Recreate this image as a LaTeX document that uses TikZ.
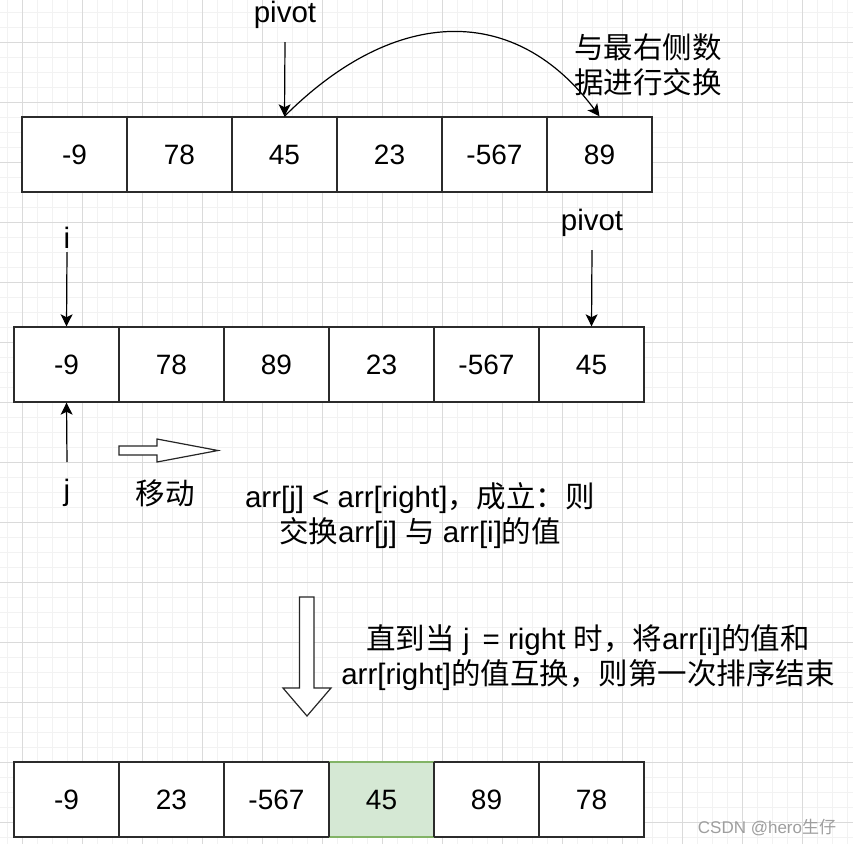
\documentclass[tikz,border=0pt]{standalone}
\usepackage{fontspec}
\setmainfont{Liberation Sans}
\newfontfamily\cjk{Noto Sans CJK SC}
\usetikzlibrary{arrows.meta}
\definecolor{minorgrid}{HTML}{F2F2F2}
\definecolor{majorgrid}{HTML}{DADADA}
\definecolor{cellborder}{HTML}{2B2B2B}
\definecolor{greenfill}{HTML}{D5E8D4}
\definecolor{greenline}{HTML}{82B366}
\tikzset{
  minorline/.style={draw=minorgrid, line width=1pt},
  majorline/.style={draw=majorgrid, line width=1pt},
  cellbox/.style={draw=cellborder, fill=white, line width=1.4pt, rectangle, minimum width=105pt, minimum height=75pt, inner sep=0pt, font=\fontsize{28}{32}\selectfont},
  greencell/.style={cellbox, fill=greenfill, draw=greenline},
  lbl/.style={inner sep=0pt, align=center, font=\fontsize{29.5}{35}\selectfont},
  pointer/.style={draw=black, line width=1.2pt, -{Stealth[length=12pt,width=12pt,inset=3pt]}},
  hollow/.style={draw=black!85, line width=1.2pt, fill=white, line join=miter},
}
\begin{document}
\begin{tikzpicture}[x=1pt,y=-1pt]
\useasboundingbox (0,0) rectangle (853,844);
\fill[white] (0,0) rectangle (853,844);
% grid
\foreach \x in {7,22,...,852} {\draw[minorline] (\x,0) -- (\x,844);}
\foreach \y in {12,27,...,843} {\draw[minorline] (0,\y) -- (853,\y);}
\foreach \x in {22,82,...,852} {\draw[majorline] (\x,0) -- (\x,844);}
\foreach \y in {42,102,...,843} {\draw[majorline] (0,\y) -- (853,\y);}

% row 1
\node[cellbox] (a1) at (74.5,154.5) {-9};
\node[cellbox] (a2) at (179.5,154.5) {78};
\node[cellbox] (a3) at (284.5,154.5) {45};
\node[cellbox] (a4) at (389.5,154.5) {23};
\node[cellbox] (a5) at (494.5,154.5) {-567};
\node[cellbox] (a6) at (599.5,154.5) {89};

% row 2
\node[cellbox] (b1) at (66.5,364.5) {-9};
\node[cellbox] (b2) at (171.5,364.5) {78};
\node[cellbox] (b3) at (276.5,364.5) {89};
\node[cellbox] (b4) at (381.5,364.5) {23};
\node[cellbox] (b5) at (486.5,364.5) {-567};
\node[cellbox] (b6) at (591.5,364.5) {45};

% row 3
\node[greencell] (c4) at (381.5,799.5) {45};
\node[cellbox] (c1) at (66.5,799.5) {-9};
\node[cellbox] (c2) at (171.5,799.5) {23};
\node[cellbox] (c3) at (276.5,799.5) {-567};
\node[cellbox] (c5) at (486.5,799.5) {89};
\node[cellbox] (c6) at (591.5,799.5) {78};
\draw[greenline, line width=1.4pt] (c4.north west) -- (c4.north east) (c4.south west) -- (c4.south east);
\draw[cellborder, line width=1.4pt] (c4.north west) -- (c4.south west) (c4.north east) -- (c4.south east);

% labels
\node[lbl] (piv1) at (285,15) {pivot};
\node[lbl] (swap) at (648,65) {{\cjk 与最右侧数}\\{\cjk 据进行交换}};
\node[lbl] (ilab) at (67,238) {i};
\node[lbl] (piv2) at (592,223) {pivot};
\node[lbl] (jlab) at (67,493) {j};
\node[lbl] (move) at (165,493) {\cjk 移动};
\node[lbl] (cond) at (420,516) {arr[j] < arr[right]{\cjk ，成立：则}\\{\cjk 交换}arr[j] {\cjk 与} arr[i]{\cjk 的值}};
\node[lbl] (endt) at (588,658) {{\cjk 直到当} j\, = right {\cjk 时，将}arr[i]{\cjk 的值和}\\arr[right]{\cjk 的值互换，则第一次排序结束}};
\node[inner sep=0pt, text=black!38, font=\fontsize{17}{20}\selectfont] (wm) at (767,828) {CSDN @hero{\cjk 生仔}};

% pointer start points
\coordinate (p1s) at (285,42);
\coordinate (is) at (67,252);
\coordinate (p2s) at (592,250);
\coordinate (js) at (67,462);

\draw[pointer] (p1s) -- (a3.north);
\draw[pointer] (a3.north) .. controls +(112,-112) and +(-83,-112) .. (a6.north);
\draw[pointer] (is) -- (b1.north);
\draw[pointer] (p2s) -- (b6.north);
\draw[pointer] (js) -- (b1.south);

% hollow block arrows
\draw[hollow] (119,446) -- (157,446) -- (157,439) -- (218,450.5) -- (157,462) -- (157,455) -- (119,455) -- cycle;
\draw[hollow] (299.5,597) -- (314,597) -- (314,688) -- (331,688) -- (307,716) -- (283,688) -- (299.5,688) -- cycle;
\end{tikzpicture}
\end{document}
